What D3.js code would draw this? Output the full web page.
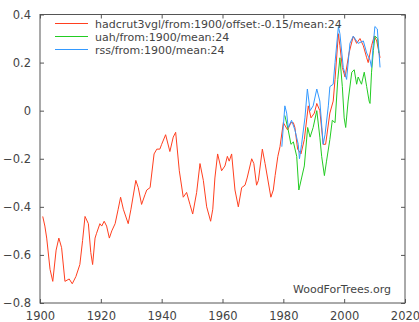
<!DOCTYPE html>
<html>
<head>
<meta charset="utf-8">
<script src="https://cdn.jsdelivr.net/npm/d3@7"></script>
<style>
  body { margin: 0; background: #fff; }
  svg { display: block; font-family: "DejaVu Sans", sans-serif; }
</style>
</head>
<body>
<div id="root"></div>
<script>
// hadcrut3vgl, offset -0.15, 24-month mean
const hadYears = [1900.9, 1901.6, 1902.2, 1903.3, 1904.2, 1905.3, 1906.2, 1907.1, 1908.2, 1909.6,
  1910.6, 1911.8, 1913.1, 1914.0, 1914.8, 1915.9, 1916.7, 1917.3, 1918.1, 1918.6,
  1919.7, 1920.3, 1921.1, 1921.9, 1922.8, 1923.6, 1924.7, 1925.7, 1926.5, 1927.4,
  1929.0, 1929.9, 1931.5, 1932.3, 1933.4, 1934.5, 1935.1, 1936.2, 1937.5, 1938.4,
  1939.4, 1940.0, 1941.3, 1942.7, 1943.8, 1944.6, 1945.8, 1947.1, 1948.2, 1949.3,
  1950.2, 1951.5, 1952.6, 1953.7, 1954.8, 1956.1, 1956.8, 1957.5, 1958.4, 1959.7,
  1960.8, 1961.6, 1962.2, 1963.0, 1964.1, 1965.2, 1966.3, 1967.4, 1968.1, 1969.6,
  1970.3, 1971.2, 1971.8, 1973.1, 1974.0, 1975.9, 1976.7, 1977.3, 1978.2, 1978.9,
  1980.0, 1981.4, 1982.5, 1983.3, 1983.8, 1984.7, 1985.8, 1986.9, 1988.2, 1989.1,
  1990.2, 1991.0, 1992.0, 1993.1, 1993.9, 1995.3, 1996.4, 1997.0, 1998.1, 1998.6,
  1999.4, 2000.3, 2001.6, 2003.0, 2004.1, 2005.2, 2006.3, 2007.4, 2007.9, 2009.0,
  2009.9, 2010.7, 2011.8];
const hadVals = [-0.44, -0.48, -0.53, -0.66, -0.71, -0.58, -0.53, -0.57, -0.71, -0.70,
  -0.72, -0.69, -0.64, -0.54, -0.44, -0.47, -0.59, -0.64, -0.53, -0.51,
  -0.47, -0.48, -0.46, -0.48, -0.53, -0.50, -0.47, -0.41, -0.36, -0.41,
  -0.47, -0.41, -0.29, -0.32, -0.39, -0.35, -0.33, -0.32, -0.18, -0.16,
  -0.16, -0.14, -0.10, -0.17, -0.11, -0.09, -0.25, -0.36, -0.34, -0.39,
  -0.43, -0.34, -0.22, -0.29, -0.40, -0.46, -0.41, -0.28, -0.18, -0.25,
  -0.23, -0.19, -0.21, -0.18, -0.33, -0.40, -0.32, -0.31, -0.28, -0.20,
  -0.22, -0.31, -0.29, -0.16, -0.22, -0.36, -0.33, -0.27, -0.19, -0.15,
  -0.05, -0.08, -0.05, -0.05, -0.07, -0.16, -0.18, -0.12, 0.02, -0.03,
  -0.01, 0.03, 0.00, -0.14, -0.14, -0.01, 0.04, 0.13, 0.32, 0.27,
  0.18, 0.14, 0.24, 0.31, 0.28, 0.30, 0.27, 0.22, 0.20, 0.27,
  0.31, 0.29, 0.22];

// uah, 24-month mean
const uahYears = [1980.5, 1981.6, 1982.5, 1983.3, 1984.4, 1985.1, 1986.0, 1986.9, 1988.0, 1988.8,
  1989.8, 1991.0, 1992.0, 1992.6, 1993.5, 1994.2, 1995.3, 1996.1, 1997.0, 1997.9,
  1998.6, 1999.4, 2000.0, 2000.5, 2001.3, 2002.5, 2003.3, 2004.1, 2004.6, 2005.7,
  2006.6, 2007.4, 2008.2, 2008.5, 2009.0, 2009.6, 2010.1, 2011.0, 2011.4];
const uahVals = [-0.02, -0.08, -0.14, -0.13, -0.19, -0.33, -0.28, -0.23, -0.07, -0.11,
  -0.07, 0.00, -0.11, -0.19, -0.27, -0.21, -0.12, -0.04, -0.05, 0.13,
  0.22, 0.10, -0.03, -0.07, 0.04, 0.16, 0.17, 0.11, 0.14, 0.11,
  0.16, 0.10, 0.04, 0.03, 0.16, 0.25, 0.31, 0.30, 0.24];

// rss, 24-month mean
const rssYears = [1979.5, 1980.5, 1981.1, 1981.6, 1982.7, 1983.8, 1984.9, 1985.3, 1986.0, 1987.1,
  1987.9, 1988.8, 1989.8, 1991.0, 1992.0, 1993.1, 1993.7, 1994.8, 1995.3, 1996.4,
  1997.0, 1998.1, 1998.6, 1999.7, 2000.8, 2001.9, 2003.0, 2004.6, 2006.3, 2007.4,
  2008.5, 2009.0, 2009.6, 2010.1, 2010.9, 2011.8];
const rssVals = [-0.15, 0.02, -0.01, -0.07, -0.04, -0.08, -0.14, -0.20, -0.14, -0.03,
  0.09, 0.00, 0.02, 0.09, 0.04, -0.14, -0.10, 0.02, 0.10, 0.11,
  0.20, 0.35, 0.32, 0.18, 0.13, 0.28, 0.31, 0.28, 0.29, 0.24,
  0.21, 0.18, 0.28, 0.35, 0.34, 0.18];

const seriesNames = ["hadcrut3vgl/from:1900/offset:-0.15/mean:24", "uah/from:1900/mean:24", "rss/from:1900/mean:24"];
const seriesColors = ["#ff3f1f", "#22cc22", "#3399ff"];
const xTicks = [1900, 1920, 1940, 1960, 1980, 2000, 2020];
const yTicks = [-0.8, -0.6, -0.4, -0.2, 0, 0.2, 0.4];

const W = 419, H = 322;
const plot = { left: 40, right: 405, top: 14.5, bottom: 303 };

const svg = d3.select("#root").append("svg").attr("width", W).attr("height", H);

const x = d3.scaleLinear().domain([1900, 2020]).range([plot.left, plot.right]);
const y = d3.scaleLinear().domain([-0.8, 0.4]).range([plot.bottom, plot.top]);

const axisColor = "#555";
const labelColor = "#444";
const fontSize = 11;

function styleAxis(g) {
  g.select(".domain").remove();
  g.selectAll(".tick line").attr("stroke", axisColor);
  g.selectAll(".tick text").attr("fill", labelColor).attr("font-size", 11.5)
    .attr("font-family", "DejaVu Sans, sans-serif");
}

// ticks point inwards, mirrored on all four sides
svg.append("g").attr("transform", `translate(0,${plot.bottom})`)
  .call(d3.axisBottom(x).tickValues(xTicks).tickFormat(d3.format("d")).tickSizeInner(-4).tickSizeOuter(0).tickPadding(9))
  .call(styleAxis);
svg.append("g").attr("transform", `translate(0,${plot.top})`)
  .call(d3.axisTop(x).tickValues(xTicks).tickFormat("").tickSizeInner(-4).tickSizeOuter(0))
  .call(styleAxis);
svg.append("g").attr("transform", `translate(${plot.left},0)`)
  .call(d3.axisLeft(y).tickValues(yTicks).tickFormat(d => d === 0 ? "0" : d3.format(".1f")(d)).tickSizeInner(-4).tickSizeOuter(0).tickPadding(9))
  .call(styleAxis);
svg.append("g").attr("transform", `translate(${plot.right},0)`)
  .call(d3.axisRight(y).tickValues(yTicks).tickFormat("").tickSizeInner(-4).tickSizeOuter(0))
  .call(styleAxis);

svg.append("rect")
  .attr("x", plot.left).attr("y", plot.top)
  .attr("width", plot.right - plot.left).attr("height", plot.bottom - plot.top)
  .attr("fill", "none").attr("stroke", axisColor).attr("stroke-width", 1);

const line = d3.line().x(d => x(d[0])).y(d => y(d[1]));
const series = [
  d3.zip(hadYears, hadVals),
  d3.zip(uahYears, uahVals),
  d3.zip(rssYears, rssVals)
];

// draw order: red, green, blue on top
series.forEach((pts, i) => {
  svg.append("path")
    .datum(pts)
    .attr("d", line)
    .attr("fill", "none")
    .attr("stroke", seriesColors[i])
    .attr("stroke-width", 1);
});

// legend
const legend = svg.append("g");
seriesNames.forEach((name, i) => {
  const ly = 23.5 + i * 13;
  legend.append("line")
    .attr("x1", 55).attr("x2", 88).attr("y1", ly).attr("y2", ly)
    .attr("stroke", seriesColors[i]).attr("stroke-width", 1);
  legend.append("text")
    .attr("x", 95).attr("y", ly + 4)
    .attr("font-size", fontSize).attr("fill", labelColor)
    .text(name);
});

svg.append("text")
  .attr("x", 391).attr("y", 293)
  .attr("text-anchor", "end")
  .attr("font-size", fontSize).attr("fill", labelColor)
  .text("WoodForTrees.org");
</script>
</body>
</html>
